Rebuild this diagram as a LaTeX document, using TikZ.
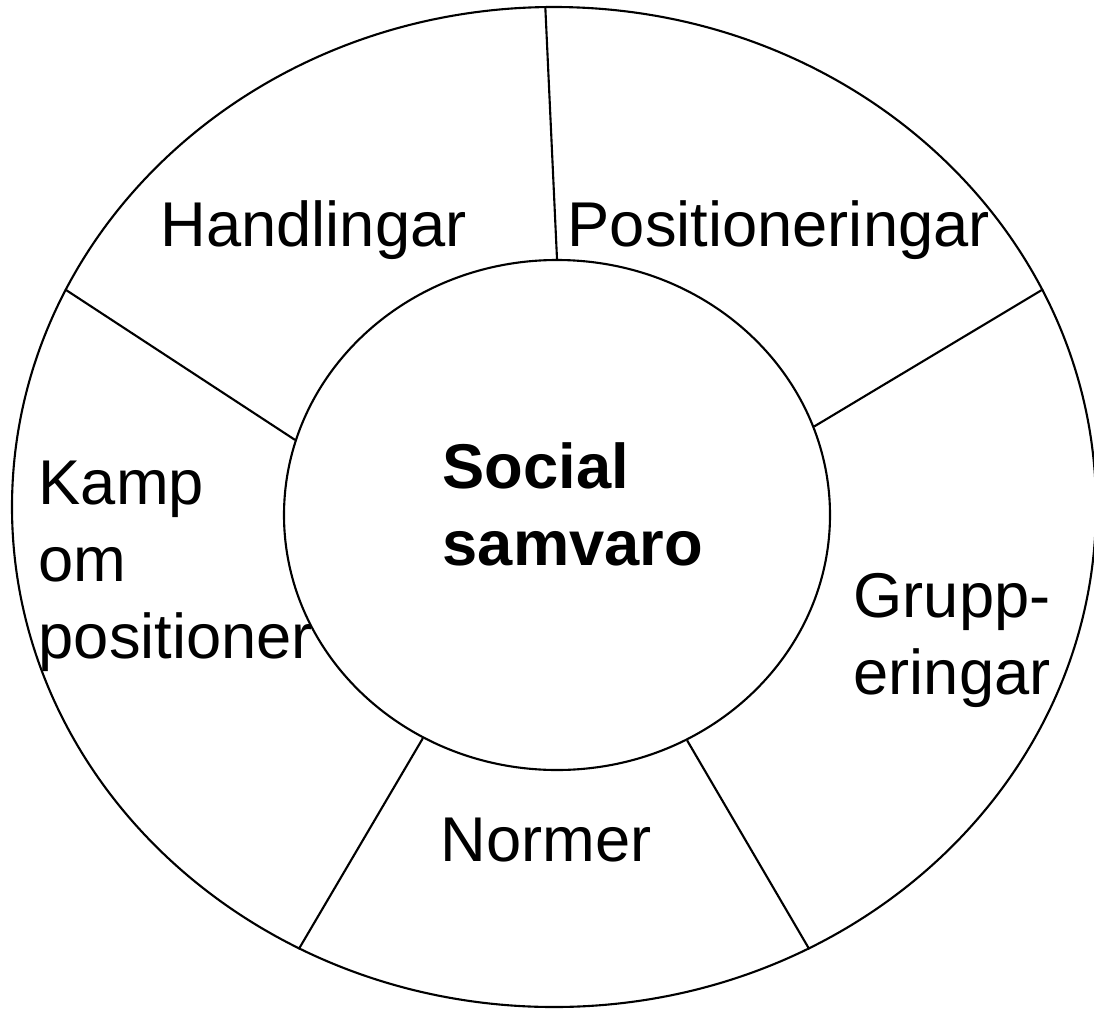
\documentclass[tikz,border=0pt]{standalone}
\usepackage{fontspec}
\setmainfont{Liberation Sans}
\usetikzlibrary{shapes.geometric}

\begin{document}
\begin{tikzpicture}[
    ring/.style = {draw, ellipse, line width=0.6pt, inner sep=0pt},
    spoke/.style = {line width=0.6pt},
    label/.style = {anchor=base west, inner sep=0pt, align=left,
                    font=\fontsize{18}{21.8}\selectfont}
]

\useasboundingbox (0,0) rectangle (10.94,10.09);

\node[ring, minimum width=10.84cm, minimum height=10cm] (outer) at (5.54,5.02) {};
\node[ring, minimum width=5.46cm, minimum height=5.10cm] (inner) at (5.57,4.94) {};

\draw[spoke] (outer.91)   -- (inner.90.9);
\draw[spoke] (outer.156.8) -- (inner.164);
\draw[spoke] (outer.24.8) -- (inner.19.6);
\draw[spoke] (outer.-120.9) -- (inner.-121.7);
\draw[spoke] (outer.-60.2) -- (inner.-60.4);

% multi-line labels sit on their last line
\node[label] (hand) at (1.60,7.63) {Handlingar};
\node[label] (posi) at (5.67,7.63) {Positioneringar};
\node[label] (kamp) at (0.38,3.51) {Kamp\\om\\positioner};
\node[label, font=\fontsize{18}{21.8}\selectfont\bfseries] (soc) at (4.42,4.44) {Social\\samvaro};
\node[label] (grupp) at (8.53,3.15) {Grupp-\\eringar};
\node[label] (norm) at (4.40,1.48) {Normer};

\end{tikzpicture}
\end{document}
